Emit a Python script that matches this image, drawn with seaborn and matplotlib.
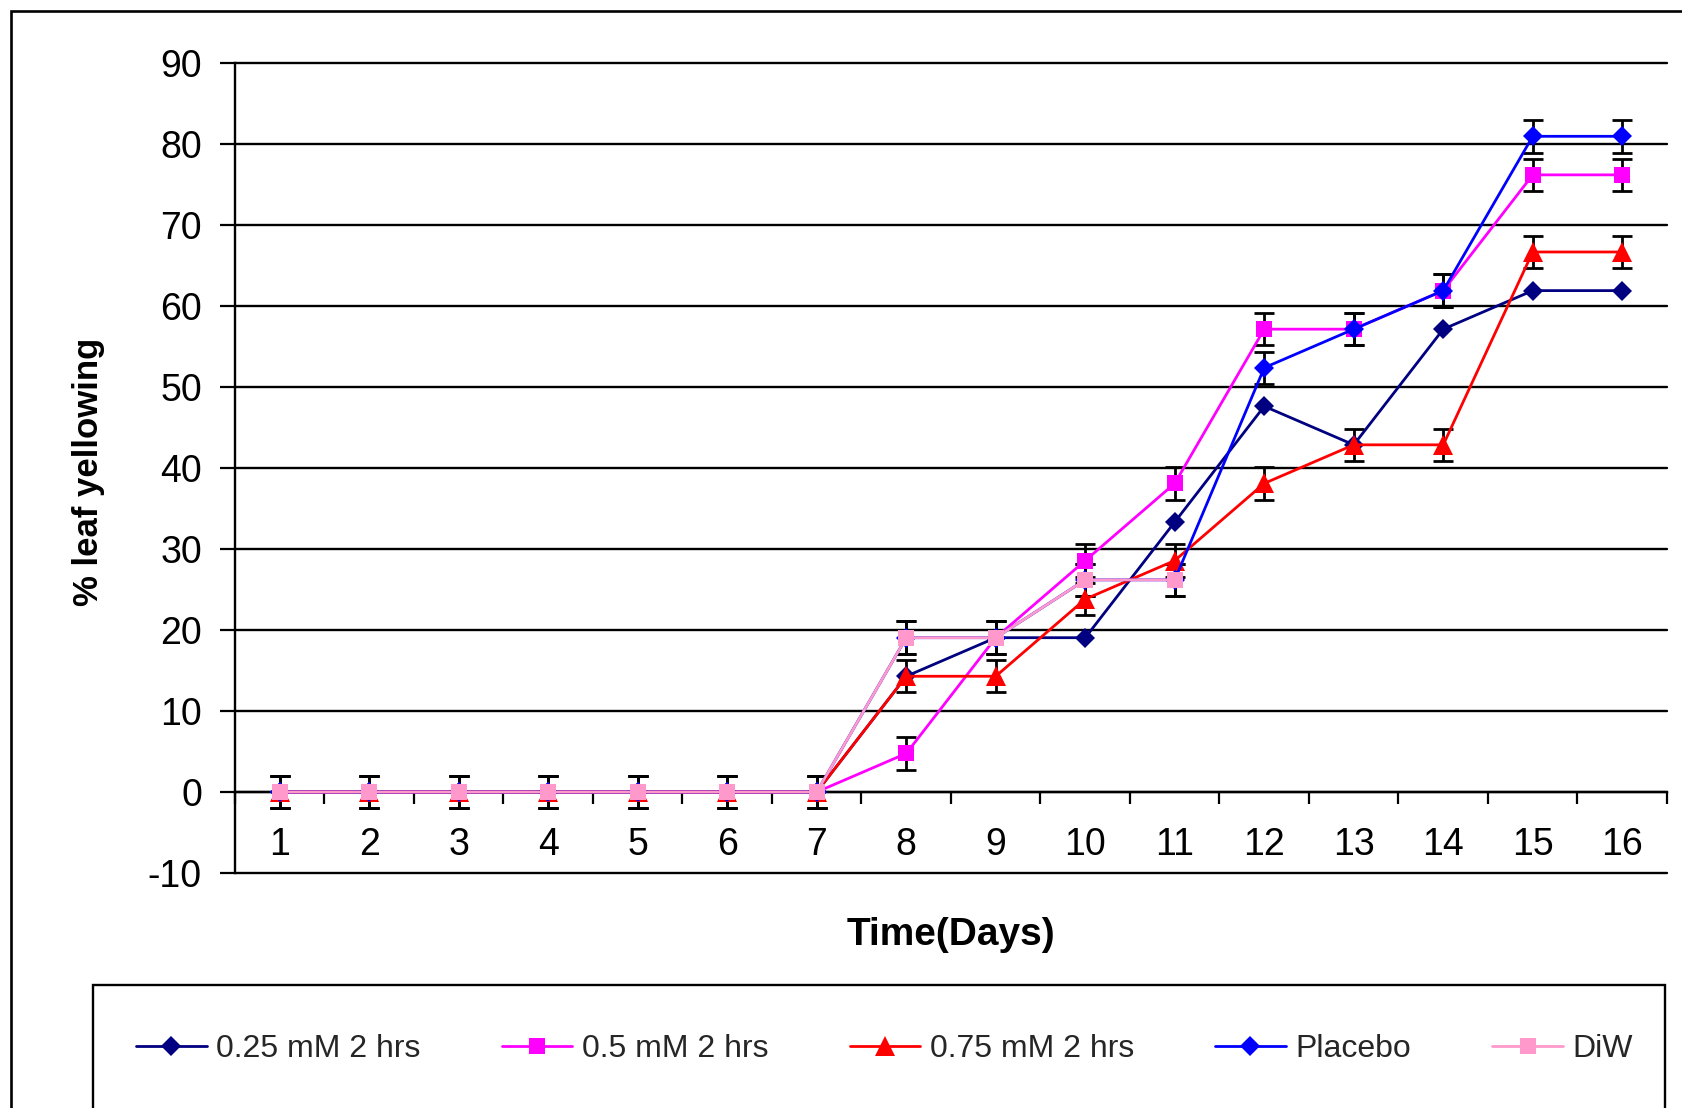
import numpy as np
import matplotlib
matplotlib.use("Agg")
import matplotlib.pyplot as plt
from matplotlib.patches import Rectangle
from matplotlib.ticker import FixedLocator
import seaborn as sns

# ---- data -------------------------------------------------------------
days = list(range(1, 17))
day_labels = [str(d) for d in days]
y_ticks = list(range(-10, 91, 10))

series_names = ["0.25 mM 2 hrs", "0.5 mM 2 hrs", "0.75 mM 2 hrs", "Placebo", "DiW"]

conc_025 = [0, 0, 0, 0, 0, 0, 0, 14.29, 19.05, 19.05, 33.33, 47.62, 42.86, 57.14, 61.90, 61.90]
conc_050 = [0, 0, 0, 0, 0, 0, 0, 4.76, 19.05, 28.57, 38.10, 57.14, 57.14, 61.90, 76.19, 76.19]
conc_075 = [0, 0, 0, 0, 0, 0, 0, 14.29, 14.29, 23.81, 28.57, 38.10, 42.86, 42.86, 66.67, 66.67]
placebo = [0, 0, 0, 0, 0, 0, 0, 19.05, 19.05, 26.19, 26.19, 52.38, 57.14, 61.90, 80.95, 80.95]
diw = [0, 0, 0, 0, 0, 0, 0, 19.05, 19.05, 26.19, 26.19,
       np.nan, np.nan, np.nan, np.nan, np.nan]

# fixed +/- error shown on the treated/control series (none on 0.25 mM)
error_050 = 2
error_075 = 2
error_placebo = 2
error_diw = 2

series_values = [conc_025, conc_050, conc_075, placebo, diw]
series_errors = [None, error_050, error_075, error_placebo, error_diw]

# ---- styling ----------------------------------------------------------
colors = ["#000080", "#FF00FF", "#FF0000", "#0000FF", "#FF99CC"]
markers = ["D", "s", "^", "D", "s"]
marker_sizes = [10.5, 12.0, 14.0, 10.5, 12.0]

sns.set_theme(style="white")
plt.rcParams["font.family"] = ["Liberation Sans", "DejaVu Sans"]
plt.rcParams["axes.unicode_minus"] = False

W, H = 1683, 1108
fig = plt.figure(figsize=(W / 100, H / 100), dpi=100)
ax = fig.add_axes([235 / W, 1 - 873 / H, (1667 - 235) / W, 810 / H])

# error bars first so the markers sit on top of them
for vals, err in zip(series_values, series_errors):
    if err is None:
        continue
    v = np.array(vals, dtype=float)
    ok = ~np.isnan(v)
    ax.errorbar(np.array(days)[ok], v[ok], yerr=err, fmt="none",
                ecolor="black", elinewidth=2.0, capsize=7.0, capthick=2.0,
                zorder=3)

for i, (name, vals) in enumerate(zip(series_names, series_values)):
    sns.lineplot(x=days, y=vals, ax=ax, color=colors[i], marker=markers[i],
                 markersize=marker_sizes[i], markeredgewidth=0,
                 linewidth=2.0, label=name, zorder=4 + i)

if ax.get_legend() is not None:
    ax.get_legend().remove()

# ---- axes -------------------------------------------------------------
ax.set_xlim(0.5, 16.5)
ax.set_ylim(-10, 90)
ax.set_xticks(days)
ax.set_xticklabels(day_labels)
ax.xaxis.set_minor_locator(FixedLocator(np.arange(0.5, 17.0, 1.0)))
ax.set_yticks(y_ticks)

ax.tick_params(axis="x", which="major", bottom=True, length=0, pad=25,
               labelsize=27, labelcolor="black")
ax.tick_params(axis="x", which="minor", bottom=True, length=8.6, width=1.6,
               direction="out", color="black")
ax.tick_params(axis="y", which="major", left=True, length=10.8, width=1.6,
               direction="out", color="black", pad=13, labelsize=27,
               labelcolor="black")

ax.spines["top"].set_visible(False)
ax.spines["right"].set_visible(False)
ax.spines["bottom"].set_position(("data", 0))
for s in ("bottom", "left"):
    ax.spines[s].set_color("black")
    ax.spines[s].set_linewidth(1.7)
    ax.spines[s].set_zorder(2.5)

ax.set_axisbelow(True)
ax.yaxis.grid(True, color="black", linewidth=1.7)
ax.xaxis.grid(False)
for gl in ax.get_ygridlines():
    gl.set_clip_on(False)

ax.set_xlabel("Time(Days)", fontsize=28, fontweight="bold", color="black")
ax.xaxis.set_label_coords(0.5, -0.076)
ax.xaxis.label.set_va("center")
ax.set_ylabel("% leaf yellowing", fontsize=25, fontweight="bold", color="black")
ax.yaxis.set_label_coords(-0.102, 0.495)
ax.yaxis.label.set_va("center")

# ---- chart frame and legend box ----------------------------------------
fig.add_artist(Rectangle((11 / W, -0.5), 2, (1 - 11 / H) + 0.5, fill=False,
                         edgecolor="black", linewidth=1.9,
                         transform=fig.transFigure))
fig.add_artist(Rectangle((93 / W, -0.5), (1665 - 93) / W, (1 - 985 / H) + 0.5,
                         fill=False, edgecolor="black", linewidth=1.7,
                         transform=fig.transFigure))

handles, labels = ax.get_legend_handles_labels()
fig.legend(handles, labels, loc="center", bbox_to_anchor=(884.5 / W, 1 - 1049 / H),
           ncol=5, frameon=False, fontsize=23, handlelength=2.2,
           handletextpad=0.3, columnspacing=2.55, borderaxespad=0,
           borderpad=0)

fig.savefig("out.png", dpi=100)
